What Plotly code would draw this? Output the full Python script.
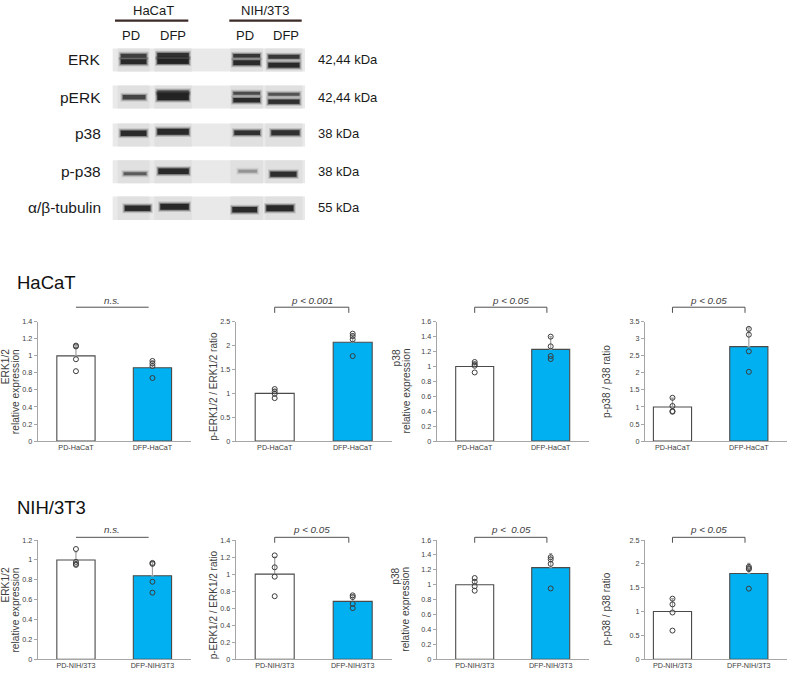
import plotly.graph_objects as go

W, H = 789, 677
FONT = "Liberation Sans, Arial, sans-serif"

# ---------------- data ----------------
hacat_ticks = ["PD-HaCaT", "DFP-HaCaT"]
nih_ticks = ["PD-NIH/3T3", "DFP-NIH/3T3"]

hacat_erk_mean = [1.00, 0.86]
hacat_erk_sd = [0.12, 0.08]
hacat_erk_pd = [1.12, 1.11, 0.96, 0.82]
hacat_erk_dfp = [0.94, 0.91, 0.88, 0.74]

hacat_perk_mean = [1.00, 2.07]
hacat_perk_sd = [0.08, 0.18]
hacat_perk_pd = [1.09, 1.04, 0.99, 0.90]
hacat_perk_dfp = [2.25, 2.20, 2.13, 1.78]

hacat_p38_mean = [1.00, 1.23]
hacat_p38_sd = [0.06, 0.17]
hacat_p38_pd = [1.06, 1.03, 1.01, 0.92]
hacat_p38_dfp = [1.40, 1.27, 1.14, 1.10]

hacat_pp38_mean = [1.00, 2.77]
hacat_pp38_sd = [0.26, 0.55]
hacat_pp38_pd = [1.27, 1.03, 0.88, 0.86]
hacat_pp38_dfp = [3.29, 3.12, 2.63, 2.03]

nih_erk_mean = [1.00, 0.84]
nih_erk_sd = [0.08, 0.14]
nih_erk_pd = [1.11, 0.98, 0.96, 0.95]
nih_erk_dfp = [0.97, 0.96, 0.78, 0.67]

nih_perk_mean = [1.00, 0.68]
nih_perk_sd = [0.20, 0.07]
nih_perk_pd = [1.22, 1.08, 0.97, 0.74]
nih_perk_dfp = [0.75, 0.73, 0.65, 0.60]

nih_p38_mean = [1.00, 1.23]
nih_p38_sd = [0.07, 0.19]
nih_p38_pd = [1.09, 1.04, 0.98, 0.92]
nih_p38_dfp = [1.37, 1.34, 1.28, 0.95]

nih_pp38_mean = [1.00, 1.80]
nih_pp38_sd = [0.27, 0.21]
nih_pp38_pd = [1.27, 1.15, 0.98, 0.60]
nih_pp38_dfp = [1.94, 1.91, 1.89, 1.48]

y_max = [1.4, 2.5, 1.6, 3.5, 1.2, 1.4, 1.6, 2.5]
y_dtick = [0.2, 0.5, 0.2, 0.5, 0.2, 0.2, 0.2, 0.5]
sig_labels = ["n.s.", "p < 0.001", "p < 0.05", "p < 0.05",
              "n.s.", "p < 0.05", "p <  0.05", "p < 0.05"]
y_titles = [["ERK1/2", "relative expression"], ["p-ERK1/2 / ERK1/2 ratio"],
            ["p38", "relative expression"], ["p-p38 / p38 ratio"]]
row_titles = ["HaCaT", "NIH/3T3"]

# Western blot (qualitative band darkness, 0..1)
blot_rows = ["ERK", "pERK", "p38", "p-p38", "α/β-tubulin"]
blot_kda = ["42,44 kDa", "42,44 kDa", "38 kDa", "38 kDa", "55 kDa"]
blot_groups = ["HaCaT", "NIH/3T3"]
blot_lanes = ["PD", "DFP", "PD", "DFP"]
erk_upper = [0.80, 0.90, 0.85, 0.85]
erk_lower = [0.95, 1.00, 0.95, 0.95]
perk_upper = [0.00, 0.70, 0.70, 0.65]
perk_lower = [0.75, 1.00, 0.95, 0.90]
p38_band = [0.95, 0.95, 0.90, 0.90]
pp38_band = [0.60, 0.95, 0.30, 0.92]
tub_band = [0.95, 0.97, 0.95, 0.97]

# ---------------- helpers ----------------
def fx(x):
    return x / W

def fy(y):
    return 1 - y / H

fig = go.Figure()
shapes = []
ann = []

# ---------------- bar panels ----------------
panels = [
    (hacat_erk_mean, hacat_erk_sd, hacat_erk_pd, hacat_erk_dfp, hacat_ticks),
    (hacat_perk_mean, hacat_perk_sd, hacat_perk_pd, hacat_perk_dfp, hacat_ticks),
    (hacat_p38_mean, hacat_p38_sd, hacat_p38_pd, hacat_p38_dfp, hacat_ticks),
    (hacat_pp38_mean, hacat_pp38_sd, hacat_pp38_pd, hacat_pp38_dfp, hacat_ticks),
    (nih_erk_mean, nih_erk_sd, nih_erk_pd, nih_erk_dfp, nih_ticks),
    (nih_perk_mean, nih_perk_sd, nih_perk_pd, nih_perk_dfp, nih_ticks),
    (nih_p38_mean, nih_p38_sd, nih_p38_pd, nih_p38_dfp, nih_ticks),
    (nih_pp38_mean, nih_pp38_sd, nih_pp38_pd, nih_pp38_dfp, nih_ticks),
]

col_x0 = [37.7, 235.7, 436.7, 645.0]
col_w = [153, 156, 152, 142]
col_xr = [[-0.5, 1.5], [-0.5, 1.5], [-0.5, 1.5], [-0.36, 1.5]]
row_top = [322.0, 543.3]
row_bot = [443.0, 664.0]
sig_text_y = [300.7, 532.5]
sig_line_y = [307.3, 540.5]
sig_tick_y = [313.0, 546.0]
title_x2 = [(5.8, 15.8), None, (396.0, 406.0), None]
title_x1 = [None, 213.5, None, 606.7]
title_dy1 = [[0, 5, 0, 0], [0, 5.3, 0, 9.3]]
row_title_y = [282.0, 510.5]

AX = "#a6a6a6"
TXT = "#404040"

for i, (mean, sd, pd_pts, dfp_pts, ticks) in enumerate(panels):
    r, c = divmod(i, 4)
    n = i + 1
    xa = "x" if n == 1 else f"x{n}"
    ya = "y" if n == 1 else f"y{n}"
    xk = "xaxis" if n == 1 else f"xaxis{n}"
    yk = "yaxis" if n == 1 else f"yaxis{n}"

    fig.add_trace(go.Bar(
        x=[0, 1], y=mean, width=0.5,
        marker=dict(color=["#FFFFFF", "#00B0F0"], line=dict(color="#4a4a4a", width=1.1)),
        error_y=dict(type="data", symmetric=False, array=sd, arrayminus=[0, 0],
                     color="#a0a0a0", thickness=1.2, width=1.5),
        xaxis=xa, yaxis=ya, showlegend=False, hoverinfo="skip"))
    fig.add_trace(go.Scatter(
        x=[0] * len(pd_pts) + [1] * len(dfp_pts), y=pd_pts + dfp_pts, mode="markers",
        marker=dict(symbol="circle-open", size=5, color="#3c3c3c", line=dict(width=1)),
        xaxis=xa, yaxis=ya, showlegend=False, hoverinfo="skip"))

    fig.layout[xk] = dict(
        domain=[fx(col_x0[c]), fx(col_x0[c] + col_w[c])], range=col_xr[c],
        anchor=ya, tickvals=[0, 1], ticktext=ticks, showline=True, linecolor=AX,
        linewidth=1, ticks="", showgrid=False, zeroline=False, fixedrange=True,
        ticklabelstandoff=-1,
        tickfont=dict(family=FONT, size=7.2, color=TXT))
    fig.layout[yk] = dict(
        domain=[fy(row_bot[r]), fy(row_top[r])], range=[0, y_max[i]], dtick=y_dtick[i],
        anchor=xa, showline=True, linecolor=AX, linewidth=1, ticks="outside",
        ticklen=3, tickcolor=AX, showgrid=False, zeroline=False, fixedrange=True,
        tickfont=dict(family=FONT, size=7.2, color=TXT))

    # significance bracket
    shapes.append(dict(type="line", xref=xa, yref="paper", x0=0.0, x1=0.95,
                       y0=fy(sig_line_y[r]), y1=fy(sig_line_y[r]),
                       line=dict(color="#505050", width=1)))
    if sig_labels[i] != "n.s.":
        for xx in (0.0, 0.95):
            shapes.append(dict(type="line", xref=xa, yref="paper", x0=xx, x1=xx,
                               y0=fy(sig_line_y[r]), y1=fy(sig_tick_y[r]),
                               line=dict(color="#505050", width=1)))
    ann.append(dict(text=f"<i>{sig_labels[i]}</i>", xref=xa, yref="paper", x=0.475,
                    y=fy(sig_text_y[r]), xanchor="center", yanchor="middle",
                    showarrow=False, font=dict(family=FONT, size=9.8, color=TXT)))

    # y-axis title
    lines = y_titles[c]
    if len(lines) == 2:
        for k, line in enumerate(lines):
            ann.append(dict(text=line, xref="paper", yref="paper",
                            x=fx(title_x2[c][k]), y=fy(row_top[r] + 25.5),
                            xanchor="center", yanchor="top", textangle=-90,
                            showarrow=False, font=dict(family=FONT, size=10.2, color=TXT)))
    else:
        mid = (row_top[r] + row_bot[r]) / 2 + title_dy1[r][c]
        ann.append(dict(text=lines[0], xref="paper", yref="paper",
                        x=fx(title_x1[c]), y=fy(mid), xanchor="center", yanchor="middle",
                        textangle=-90, showarrow=False,
                        font=dict(family=FONT, size=10.0, color=TXT)))

for r, t in enumerate(row_titles):
    ann.append(dict(text=t, xref="paper", yref="paper", x=fx(14.5), y=fy(row_title_y[r]),
                    xanchor="left", yanchor="middle", showarrow=False,
                    font=dict(family=FONT, size=18.5, color="#111111")))

# ---------------- western blot ----------------
strip_y = [(45.0, 68.3), (82.7, 106.0), (121.0, 144.3), (158.3, 181.7), (195.0, 219.0)]
strip_x = (112.7, 305.0)
lane_x = [(120.7, 146.5), (157.3, 188.8), (233.3, 260.0), (268.3, 299.5)]
label_y = [56.7, 95.0, 131.7, 170.0, 206.7]

# band geometry: per row, (darkness list, y-centres per lane, thickness, x-insets)
band_specs = [
    (erk_upper, [52.5, 52.0, 52.5, 53.5], 4.0, [(0, 0), (0, 0), (0, 0), (0, 0)]),
    (erk_lower, [58.5, 58.0, 59.5, 62.0], 5.0, [(0, 0), (0, 0), (0, 0), (0, 0)]),
    (perk_upper, [89.0, 89.0, 90.5, 91.5], 3.0, [(2, 2), (0, 0), (0, 0), (0, 0)]),
    (perk_lower, [94.5, 94.0, 97.5, 99.0], 4.5, [(2, 1), (0, 0), (0, 0), (0, 0)]),
    (p38_band, [131.0, 129.5, 130.5, 130.5], 5.5, [(0, 0), (0, 0), (1, 0), (3, 0)]),
    (pp38_band, [172.0, 169.5, 169.5, 172.5], 5.0, [(3, 0), (1, 0), (5, 3), (2, 3)]),
    (tub_band, [207.0, 205.5, 208.5, 207.0], 5.5, [(4, -4), (3, 0), (-1, 3), (-2, 6)]),
]
thick_scale = [[1, 1.2, 0.9, 1.0], [1, 1.1, 1.0, 1.0], [1, 1, 1, 1], [1, 1.6, 1, 1],
               [1, 1.1, 0.85, 0.95], [0.6, 1.15, 0.6, 1.05], [1, 1.1, 1, 1.1]]

for (y0, y1) in strip_y:
    shapes.append(dict(type="rect", xref="paper", yref="paper", x0=fx(strip_x[0]),
                       x1=fx(strip_x[1]), y0=fy(y1), y1=fy(y0), layer="below",
                       fillcolor="#e9e9e9", line=dict(width=0)))
    for (lx0, lx1) in lane_x:
        shapes.append(dict(type="rect", xref="paper", yref="paper", x0=fx(lx0 - 3),
                           x1=fx(lx1 + 3), y0=fy(y1), y1=fy(y0), layer="below",
                           fillcolor="#e0e0e0", line=dict(width=0)))

for bi, (dark, ys, th, insets) in enumerate(band_specs):
    for li in range(4):
        d = dark[li]
        if d <= 0:
            continue
        t = th * thick_scale[bi][li]
        lx0 = lane_x[li][0] + insets[li][0]
        lx1 = lane_x[li][1] - insets[li][1]
        yc = ys[li]
        for grow, alpha in ((2.2, 0.16), (1.1, 0.35), (0.0, 0.85)):
            shapes.append(dict(type="rect", xref="paper", yref="paper",
                               x0=fx(lx0 - grow), x1=fx(lx1 + grow),
                               y0=fy(yc + t / 2 + grow), y1=fy(yc - t / 2 - grow),
                               fillcolor=f"rgba(20,20,20,{alpha * d:.3f})",
                               line=dict(width=0), layer="above"))

for k, name in enumerate(blot_rows):
    ann.append(dict(text=name, xref="paper", yref="paper", x=fx(102.5), y=fy(label_y[k]),
                    xanchor="right", yanchor="middle", showarrow=False,
                    font=dict(family=FONT, size=15.5, color="#1a1a1a")))
    ann.append(dict(text=blot_kda[k], xref="paper", yref="paper", x=fx(315.5),
                    y=fy(label_y[k]), xanchor="left", yanchor="middle", showarrow=False,
                    font=dict(family=FONT, size=13, color="#1a1a1a")))

group_cx = [153.3, 265.0]
group_line = [(115.0, 188.3), (229.3, 301.7)]
for g, name in enumerate(blot_groups):
    ann.append(dict(text=name, xref="paper", yref="paper", x=fx(group_cx[g]), y=fy(7.0),
                    xanchor="center", yanchor="middle", showarrow=False,
                    font=dict(family=FONT, size=13, color="#1a1a1a")))
    shapes.append(dict(type="line", xref="paper", yref="paper", x0=fx(group_line[g][0]),
                       x1=fx(group_line[g][1]), y0=fy(16.8), y1=fy(16.8),
                       line=dict(color="#3b2a26", width=2.4)))
lane_label_x = [131.0, 173.0, 244.5, 285.5]
for li, name in enumerate(blot_lanes):
    ann.append(dict(text=name, xref="paper", yref="paper", x=fx(lane_label_x[li]),
                    y=fy(32.0), xanchor="center", yanchor="middle", showarrow=False,
                    font=dict(family=FONT, size=13, color="#1a1a1a")))

fig.update_layout(
    width=W, height=H, margin=dict(l=0, r=0, t=0, b=0),
    paper_bgcolor="white", plot_bgcolor="rgba(0,0,0,0)",
    shapes=shapes, annotations=ann, showlegend=False,
    font=dict(family=FONT), bargap=0.5)

fig.write_html("out.html",
               config={"displayModeBar": False, "staticPlot": True},
               post_script="document.body.style.margin='0';document.body.style.overflow='hidden';")
